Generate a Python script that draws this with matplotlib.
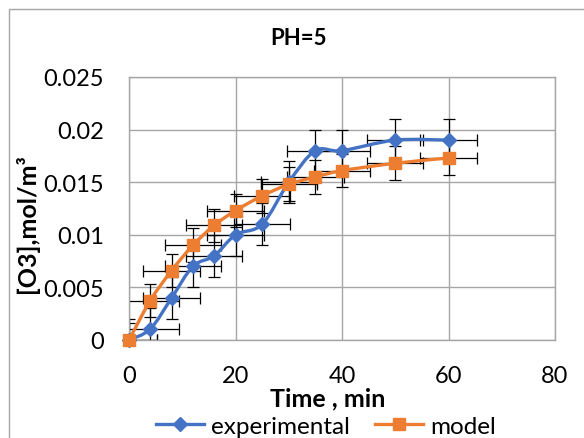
import matplotlib
matplotlib.use('Agg')
import matplotlib.pyplot as plt
from matplotlib.patches import Rectangle, PathPatch
from matplotlib.path import Path

# === Data ===
time_exp = [0, 4, 8, 12, 16, 20, 25, 30, 35, 40, 50, 60]
o3_exp = [0, 0.00105, 0.004, 0.007, 0.008, 0.010, 0.011, 0.015, 0.018, 0.018, 0.019, 0.019]

time_model = [0, 4, 8, 12, 16, 20, 25, 30, 35, 40, 50, 60]
o3_model = [0, 0.00375, 0.0066, 0.0090, 0.0109, 0.0123, 0.0137, 0.0148, 0.0155, 0.0161, 0.0168, 0.0173]

x_err = 5.3          # horizontal error bar half-width, min
y_err_exp = 0.002    # vertical error bars, experimental
y_err_model = 0.0016 # vertical error bars, model

x_ticks = [0, 20, 40, 60, 80]
y_ticks = [0, 0.005, 0.01, 0.015, 0.02, 0.025]
y_tick_labels = ["0", "0.005", "0.01", "0.015", "0.02", "0.025"]

BLUE = "#4472C4"
ORANGE = "#ED7D31"
GRID = "#A6A6A6"


def smooth_path(xs, ys):
    """Excel-style smoothed line: cubic Bezier segments through every point."""
    pts = list(zip(xs, ys))
    verts = [pts[0]]
    codes = [Path.MOVETO]
    n = len(pts)
    for i in range(n - 1):
        p0 = pts[i - 1] if i > 0 else pts[i]
        p1, p2 = pts[i], pts[i + 1]
        p3 = pts[i + 2] if i + 2 < n else pts[i + 1]
        c1 = (p1[0] + (p2[0] - p0[0]) / 6, p1[1] + (p2[1] - p0[1]) / 6)
        c2 = (p2[0] - (p3[0] - p1[0]) / 6, p2[1] - (p3[1] - p1[1]) / 6)
        verts += [c1, c2, p2]
        codes += [Path.CURVE4] * 3
    return Path(verts, codes)


plt.rcParams['font.family'] = ['Lato', 'DejaVu Sans']

fig = plt.figure(figsize=(5.84, 4.39), dpi=100)
ax = fig.add_axes([129 / 584, 1 - 341 / 439, 426 / 584, 263 / 439])

# error bars underneath the series
ax.errorbar(time_exp, o3_exp, xerr=x_err, yerr=y_err_exp, fmt='none',
            ecolor='black', elinewidth=0.9, capsize=4, capthick=0.9, zorder=2)
ax.errorbar(time_model, o3_model, xerr=x_err, yerr=y_err_model, fmt='none',
            ecolor='black', elinewidth=0.9, capsize=4, capthick=0.9, zorder=2)

# smoothed connecting lines
ax.add_patch(PathPatch(smooth_path(time_exp, o3_exp), fill=False,
                       edgecolor=BLUE, lw=2.4, zorder=3))
ax.add_patch(PathPatch(smooth_path(time_model, o3_model), fill=False,
                       edgecolor=ORANGE, lw=2.4, zorder=4))

# markers (and legend entries)
ax.plot(time_exp, o3_exp, color=BLUE, ls='none', marker='D', ms=7,
        zorder=3.5, clip_on=False)
ax.plot(time_model, o3_model, color=ORANGE, ls='none', marker='s', ms=8.5,
        zorder=4.5, clip_on=False)
h_exp, = ax.plot([], [], color=BLUE, lw=2.4, marker='D', ms=7, label='experimental')
h_mod, = ax.plot([], [], color=ORANGE, lw=2.4, marker='s', ms=8.5, label='model')

ax.set_xlim(0, 80)
ax.set_ylim(0, 0.025)
ax.set_xticks(x_ticks)
ax.set_yticks(y_ticks)
ax.set_yticklabels(y_tick_labels)
ax.tick_params(length=0, labelsize=17)
ax.tick_params(axis='y', pad=18)
ax.tick_params(axis='x', pad=18)
ax.grid(True, color=GRID, lw=1)
ax.set_axisbelow(True)
for s in ax.spines.values():
    s.set_color(GRID)
    s.set_linewidth(1)

ax.set_title("PH=5", fontsize=16, fontweight='bold', pad=24, x=0.398)
ax.set_xlabel("Time , min", fontsize=18, fontweight='bold')
ax.xaxis.set_label_coords(0.466, -0.175)
ax.set_ylabel("[O3],mol/m³", fontsize=18, fontweight='bold')
ax.yaxis.set_label_coords(-0.212, 0.445)

fig.legend(handles=[h_exp, h_mod], loc='center', bbox_to_anchor=(0.558, 0.027),
           ncol=2, frameon=False, fontsize=17.5, handlelength=2.0,
           columnspacing=1.0, handletextpad=0.3)

# outer chart-area border (top and left visible)
fig.patches.append(Rectangle((8.5 / 584, -0.5), 2, 0.5 + 1 - 10 / 439,
                             transform=fig.transFigure, fill=False,
                             edgecolor=GRID, lw=1))

fig.savefig("out.png", dpi=100)
plt.close(fig)
